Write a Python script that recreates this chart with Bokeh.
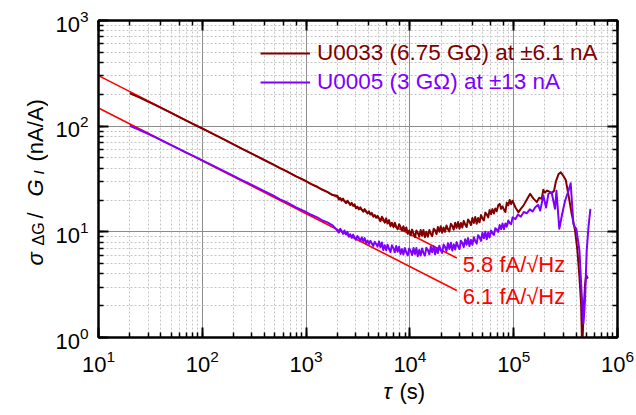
import math
from bokeh.plotting import figure
from bokeh.layouts import row, column
from bokeh.models import (Range1d, LogAxis, Label, Legend, LegendItem, CustomJSTickFormatter)
from bokeh.embed import file_html
from bokeh.resources import INLINE

# ---- averaging times (s) ----
tau_early = [20, 25, 30, 35, 40, 50, 60, 70, 80, 100, 120, 140, 160, 200, 240, 280, 320,
             400, 480, 560, 640, 800, 960, 1120, 1280, 1440, 1600, 1800]
tau_mid = [2000, 2070, 2130, 2200, 2270, 2340, 2420, 2500, 2580, 2660,
           2750, 2840, 2930, 3020, 3120, 3220, 3330, 3440, 3550, 3660,
           3780, 3900, 4030, 4160, 4300, 4440, 4580, 4730, 4880, 5040,
           5200, 5370, 5540, 5720, 5910, 6100, 6300, 6500, 6710, 6930,
           7150, 7380, 7620, 7870, 8120, 8390, 8660, 8940, 9230, 9530,
           9840, 10160, 10500, 10840, 11200, 11550, 11900, 12300, 12700, 13100,
           13500, 13950, 14400, 14900, 15400, 15900, 16400, 16950, 17500, 18050,
           18600, 19200, 19800, 20450, 21100, 21800, 22500, 23250, 24000, 24800,
           25600, 26450, 27300, 28200, 29100, 30050, 31000, 32000, 33000, 34100,
           35200, 36350, 37500, 38750, 40000, 41300, 42600, 44000, 45400, 46900,
           48400, 50000, 51600, 53300, 55000, 56800, 58600, 60500, 62400, 64450,
           66500, 68700, 70900, 73250, 75600, 78050, 80500, 83150, 85800, 88650,
           91500, 94500, 97500]
tau_tail_u0033 = [104000, 111000, 117000, 124000, 133000, 144000, 155000, 167000, 176000,
                  186000, 193000, 200000, 210000, 220000, 232000, 245000, 255000, 270000,
                  284000, 300000, 318000, 340000, 362000, 390000, 411000, 430000, 446000,
                  455000, 462000, 469000, 487000, 500000, 517000]
tau_tail_u0005 = [104000, 110000, 117000, 125000, 134000, 143000, 152000, 162000, 172000,
                  180000, 193000, 205000, 216000, 232000, 250000, 258000, 275000, 294000,
                  313000, 335000, 354000, 376000, 390000, 401000, 415000, 430000, 450000,
                  469000, 480000, 487000, 505000, 525000, 548000]

# ---- Allan deviation sigma_dG / G_I (nA/A), sample U0033 (6.75 GOhm at +/-6.1 nA) ----
sig_early_u0033 = [205, 186, 171, 159, 149, 133.5, 122, 113, 105.8, 95.0, 86.9, 80.5, 75.3,
                   67.3, 61.3, 56.9, 53.1, 47.6, 43.5, 40.1, 37.7, 33.5, 30.8, 28.3, 26.7,
                   25.0, 23.9, 22.3]
sig_mid_u0033 = [22.0, 20.2, 20.9, 19.7, 20.6, 19.5, 18.7, 19.7, 18.9, 18.0,
                 18.8, 17.6, 18.2, 16.7, 17.3, 16.3, 17.1, 16.2, 15.5, 16.4,
                 15.7, 14.9, 15.6, 14.6, 15.1, 13.9, 14.4, 13.6, 14.2, 13.4,
                 12.6, 13.9, 13.2, 12.2, 13.4, 12.0, 12.9, 11.3, 12.2, 11.1,
                 12.2, 11.2, 10.6, 11.8, 11.1, 10.3, 11.3, 10.2, 11.0, 9.6,
                 10.3, 9.3, 10.5, 9.6, 8.9, 10.3, 9.8, 9.0, 10.4, 9.2,
                 10.4, 8.9, 10.0, 9.0, 10.4, 9.6, 9.1, 10.7, 10.3, 9.5,
                 11.1, 10.0, 11.3, 9.8, 11.0, 10.0, 11.5, 10.6, 10.1, 11.9,
                 11.4, 10.5, 12.2, 10.9, 12.4, 10.7, 12.1, 11.0, 12.7, 11.7,
                 11.1, 13.1, 12.5, 11.6, 13.5, 12.1, 13.8, 11.9, 13.5, 12.3,
                 14.4, 13.4, 12.8, 15.2, 14.6, 13.7, 16.1, 14.7, 16.4, 14.9,
                 16.6, 15.7, 17.8, 18.4, 16.5, 17.4, 16.2, 15.4, 18.9, 17.8,
                 20.0, 18.3, 19.7]
sig_tail_u0033 = [17.0, 15.3, 16.5, 17.7, 20.0, 22.9, 20.6, 19.1, 21.0,
                  20.5, 25.0, 23.5, 24.6, 24.0, 23.2, 24.5, 30.0, 35.0,
                  36.6, 34.0, 30.7, 21.2, 14.8, 10.3, 6.65, 3.7, 2.08,
                  0.9, 1.0, 1.6, 3.2, 3.9, 3.6]

# ---- Allan deviation sigma_dG / G_I (nA/A), sample U0005 (3 GOhm at +/-13 nA) ----
sig_early_u0005 = [101, 92.0, 84.6, 78.6, 73.8, 66.2, 60.6, 56.3, 52.8, 47.4, 43.4, 40.3, 37.8,
                   33.8, 30.9, 28.7, 26.9, 24.1, 22.1, 20.3, 19.2, 17.0, 15.7, 14.5, 13.7,
                   12.8, 12.3, 11.5]
sig_mid_u0005 = [10.3, 9.83, 10.7, 10.2, 9.55, 10.3, 9.46, 10.0, 8.98, 9.49,
                 8.79, 9.41, 8.82, 8.41, 9.14, 8.74, 8.21, 8.87, 8.14, 8.72,
                 7.79, 8.26, 7.64, 8.22, 7.73, 7.36, 8.05, 7.68, 7.25, 8.10,
                 7.15, 7.94, 6.72, 7.48, 6.68, 7.55, 6.88, 6.44, 7.45, 7.01,
                 6.41, 7.34, 6.48, 7.24, 6.16, 6.86, 6.12, 7.02, 6.39, 5.98,
                 6.97, 6.62, 6.03, 7.03, 6.16, 7.03, 5.87, 6.73, 5.97, 6.97,
                 6.32, 5.96, 7.08, 6.72, 6.12, 7.25, 6.40, 7.30, 6.14, 7.04,
                 6.30, 7.40, 6.71, 6.32, 7.57, 7.18, 6.59, 7.79, 6.88, 7.90,
                 6.64, 7.61, 6.80, 7.99, 7.30, 6.87, 8.22, 7.84, 7.19, 8.50,
                 7.54, 8.72, 7.33, 8.39, 7.54, 8.90, 8.17, 7.74, 9.30, 8.86,
                 8.21, 9.81, 8.69, 10.0, 8.51, 9.84, 8.82, 10.3, 9.69, 9.35,
                 10.8, 10.5, 10.0, 11.6, 10.6, 12.0, 10.6, 12.0, 11.2, 12.8,
                 12.1, 11.8, 13.7]
sig_tail_u0005 = [13.2, 14.6, 13.9, 15.4, 15.0, 16.3, 15.6, 17.2, 18.0,
                  15.9, 22.0, 17.0, 22.9, 23.6, 16.5, 24.5, 10.7, 15.0,
                  19.8, 24.0, 28.8, 11.9, 11.0, 10.7, 8.5, 6.65, 2.78,
                  1.36, 1.8, 2.4, 6.65, 11.0, 16.5]

# ---- white-noise reference lines: current noise density / measurement current ----
noise_density_fA = [5.8, 6.1]      # fA/sqrt(Hz)
current_nA = [6.1, 13.0]            # nA
tau_fit = [10, 28300]               # s
fit_labels = ["5.8 fA/\u221aHz", "6.1 fA/\u221aHz"]

series_labels = ["U0033 (6.75 G\u03a9) at \u00b16.1 nA", "U0005 (3 G\u03a9) at \u00b113 nA"]
series_colors = ["#800000", "#8000ff"]

tau_u0033 = tau_early + tau_mid + tau_tail_u0033
sig_u0033 = sig_early_u0033 + sig_mid_u0033 + sig_tail_u0033
tau_u0005 = tau_early + tau_mid + tau_tail_u0005
sig_u0005 = sig_early_u0005 + sig_mid_u0005 + sig_tail_u0005
assert len(tau_u0033) == len(sig_u0033) and len(tau_u0005) == len(sig_u0005)

FONT = "Liberation Sans"
W, H = 636, 415
LEFT_W = 48          # strip holding the rotated y-axis title
BOTTOM_H = 37        # strip holding the x-axis title


def text_strip(width, height):
    """Blank figure whose frame fills the whole canvas, used to hold axis titles."""
    f = figure(width=width, height=height, x_range=Range1d(0, 1), y_range=Range1d(0, 1),
               output_backend="svg", toolbar_location=None,
               x_axis_location=None, y_axis_location=None, min_border=0)
    f.grid.visible = False
    f.outline_line_color = None
    f.background_fill_color = "white"
    f.border_fill_color = "white"
    return f


p = figure(width=W - LEFT_W, height=H - BOTTOM_H, x_axis_type="log", y_axis_type="log",
           x_range=Range1d(10, 1e6), y_range=Range1d(1, 1000),
           output_backend="svg", toolbar_location=None,
           min_border_left=98 - LEFT_W, min_border_right=19, min_border_top=20,
           min_border_bottom=H - BOTTOM_H - 337)
p.background_fill_color = "white"
p.border_fill_color = "white"
p.outline_line_color = "black"
p.outline_line_width = 2

# grid: solid major lines, dashed minor lines
for g in (p.xgrid, p.ygrid):
    g.grid_line_color = "#8c8c8c"
    g.grid_line_width = 1
    g.minor_grid_line_color = "#c4c4c4"
    g.minor_grid_line_width = 1
    g.minor_grid_line_dash = "2 2"

# extra axes to close the frame with inner ticks (no labels)
blank = CustomJSTickFormatter(code="return '';")
p.add_layout(LogAxis(formatter=blank, major_label_standoff=0), "above")
p.add_layout(LogAxis(formatter=blank, major_label_standoff=0), "right")

for ax in p.axis:
    ax.axis_line_color = "black"
    ax.axis_line_width = 2
    ax.major_tick_in = 10
    ax.major_tick_out = 0
    ax.minor_tick_in = 5
    ax.minor_tick_out = 0
    ax.major_tick_line_width = 2
    ax.minor_tick_line_width = 1.5
    ax.major_label_text_font = FONT
    ax.major_label_text_font_size = "22px"
    ax.major_label_text_color = "black"

p.above[0].major_label_text_font_size = "8px"
p.right[0].major_label_text_font_size = "8px"
p.below[0].major_label_standoff = 12
p.left[0].major_label_standoff = 10

# reference lines
for s, i in zip(noise_density_fA, current_nA):
    amp = s / i * 1e3   # nA/A * sqrt(s)
    p.line(tau_fit, [amp / math.sqrt(t) for t in tau_fit], line_color="#ff0000", line_width=1.6)

for s, i, lab in zip(noise_density_fA, current_nA, fit_labels):
    amp = s / i * 1e3
    y_end = amp / math.sqrt(tau_fit[-1])
    p.add_layout(Label(x=tau_fit[-1] * 1.14, y=y_end * 0.87, text=lab, text_color="#ff0000",
                       text_font=FONT, text_font_size="22px", text_baseline="middle"))

r1 = p.line(tau_u0033, sig_u0033, line_color=series_colors[0], line_width=2, line_join="round")
r2 = p.line(tau_u0005, sig_u0005, line_color=series_colors[1], line_width=2, line_join="round")

for r, lab, col, vy in ((r1, series_labels[0], series_colors[0], 271),
                        (r2, series_labels[1], series_colors[1], 242)):
    leg = Legend(items=[LegendItem(label=lab, renderers=[r])], location=(162, vy),
                 label_text_color=col, label_text_font=FONT, label_text_font_size="22.5px",
                 glyph_width=50, glyph_height=26, label_height=26, label_standoff=7,
                 padding=0, margin=0, spacing=0, border_line_alpha=0, background_fill_alpha=0)
    p.add_layout(leg)

# y-axis title: rotated pieces with italic symbols and subscripts
ytitle = text_strip(LEFT_W, H)
ylab = [("\u03c3", "italic", "22px", 35, 150),
        ("\u0394G", "normal", "16px", 38, 170),
        ("/", "normal", "22px", 35, 197),
        ("G", "italic", "22px", 35, 219),
        ("I", "italic", "15px", 38, 241),
        ("(nA/A)", "normal", "22px", 35, 254)]
for txt, style, size, x, y in ylab:
    ytitle.add_layout(Label(x=x, y=y, x_units="screen", y_units="screen", angle=math.pi / 2,
                            text=txt, text_color="black", text_font=FONT,
                            text_font_style=style, text_font_size=size,
                            text_baseline="alphabetic", text_align="left"))

# x-axis title
xtitle = text_strip(W - LEFT_W, BOTTOM_H)
xtitle.add_layout(Label(x=333 - LEFT_W, y=12, x_units="screen", y_units="screen", text="\u03c4",
                        text_color="black", text_font=FONT, text_font_style="italic",
                        text_font_size="22px"))
xtitle.add_layout(Label(x=349 - LEFT_W, y=12, x_units="screen", y_units="screen", text="(s)",
                        text_color="black", text_font=FONT, text_font_size="22px"))

layout = row(ytitle, column(p, xtitle, spacing=0), spacing=0)
open("out.html", "w").write(file_html(layout, INLINE))
